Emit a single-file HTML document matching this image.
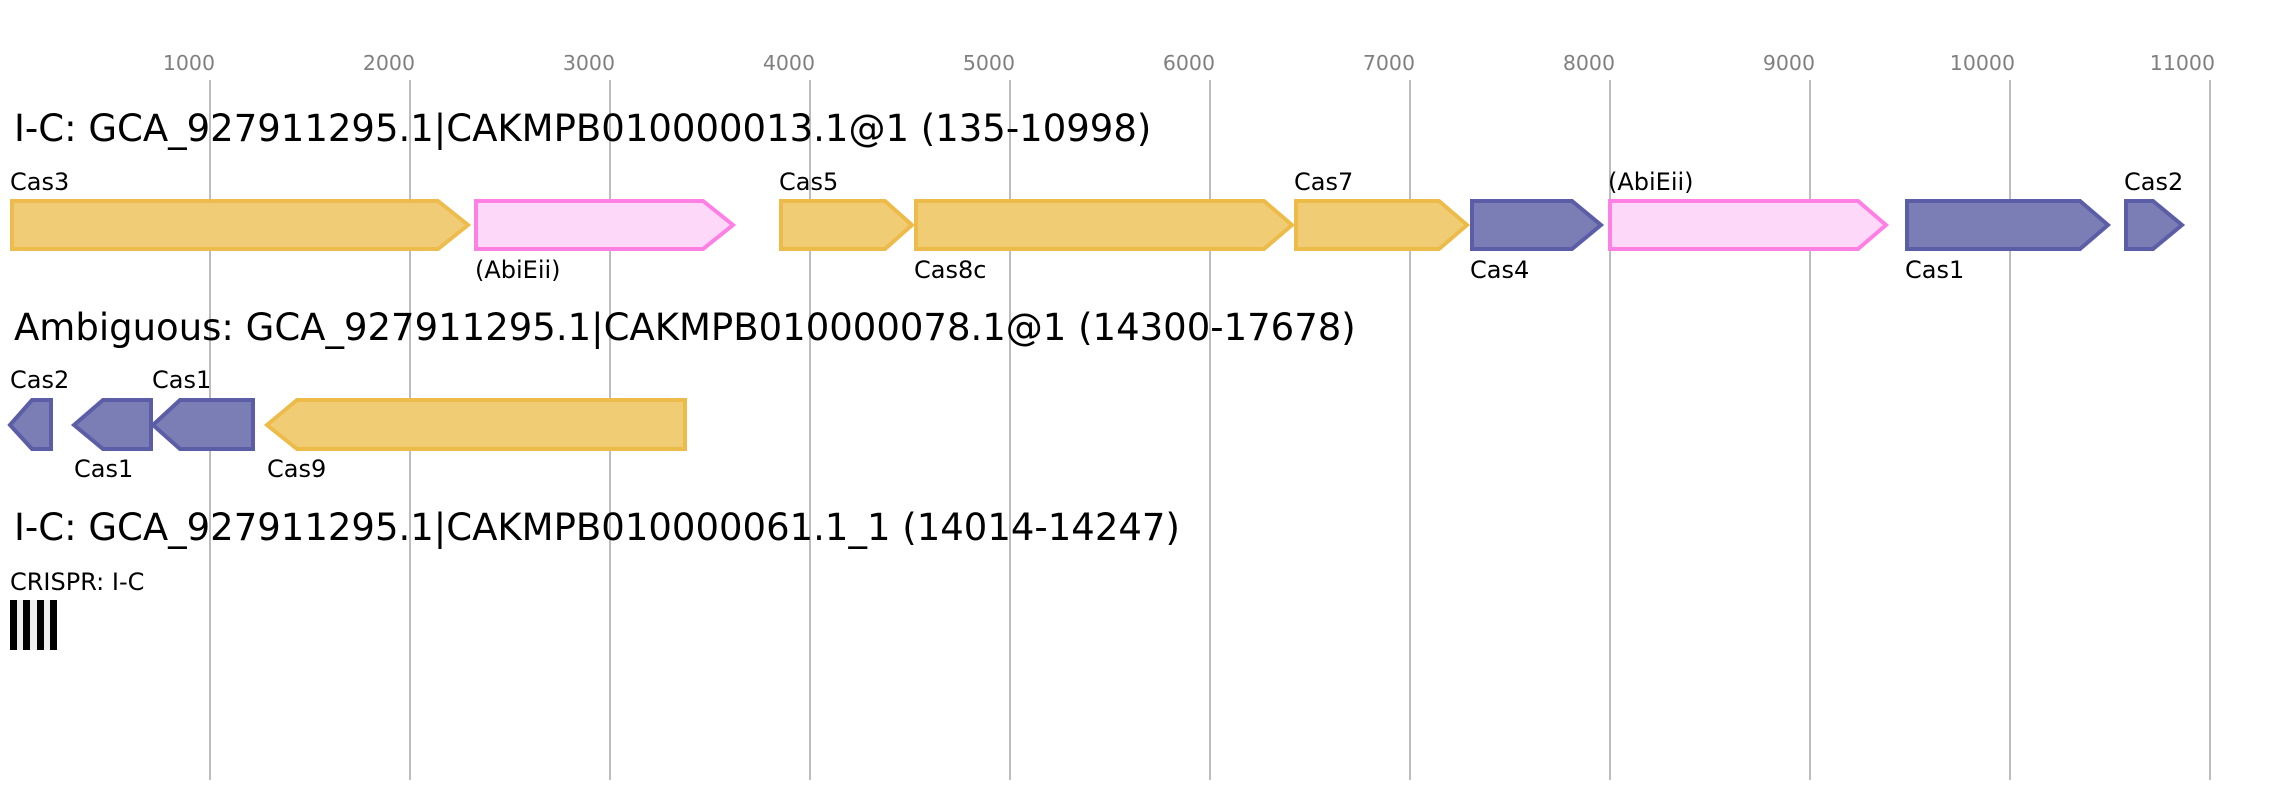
<!DOCTYPE html>
<html><head><meta charset="utf-8"><style>
html,body{margin:0;padding:0;background:#fff;}
svg{display:block;font-family:"DejaVu Sans","Liberation Sans",sans-serif;}
.t{font-size:20.5px;fill:#808080;text-anchor:end}
.h{font-size:37px;fill:#000}
.l{font-size:24px;fill:#000}
.y{fill:#f0cc74;stroke:#edbb4a;stroke-width:4}
.p{fill:#fdd8f8;stroke:#ff80e4;stroke-width:4}
.b{fill:#7b7db5;stroke:#5b5ea6;stroke-width:4}
</style></head><body>
<svg width="2273" height="800" viewBox="0 0 2273 800" xmlns="http://www.w3.org/2000/svg">
<g stroke="#bdbdbd" stroke-width="2">
<line x1="210" y1="80" x2="210" y2="780"/><line x1="410" y1="80" x2="410" y2="780"/>
<line x1="610" y1="80" x2="610" y2="780"/><line x1="810" y1="80" x2="810" y2="780"/>
<line x1="1010" y1="80" x2="1010" y2="780"/><line x1="1210" y1="80" x2="1210" y2="780"/>
<line x1="1410" y1="80" x2="1410" y2="780"/><line x1="1610" y1="80" x2="1610" y2="780"/>
<line x1="1810" y1="80" x2="1810" y2="780"/><line x1="2010" y1="80" x2="2010" y2="780"/>
<line x1="2210" y1="80" x2="2210" y2="780"/>
</g>
<text class="t" x="215" y="70">1000</text><text class="t" x="415" y="70">2000</text>
<text class="t" x="615" y="70">3000</text><text class="t" x="815" y="70">4000</text>
<text class="t" x="1015" y="70">5000</text><text class="t" x="1215" y="70">6000</text>
<text class="t" x="1415" y="70">7000</text><text class="t" x="1615" y="70">8000</text>
<text class="t" x="1815" y="70">9000</text><text class="t" x="2015" y="70">10000</text>
<text class="t" x="2215" y="70">11000</text>

<text class="h" x="14" y="141">I-C: GCA_927911295.1|CAKMPB010000013.1@1 (135-10998)</text>
<polygon class="y" points="12,201 438,201 468,225 438,249 12,249" opacity="0.98"/>
<polygon class="p" points="476,201 703,201 733,225 703,249 476,249"/>
<polygon class="y" points="781,201 885,201 912,225 885,249 781,249"/>
<polygon class="y" points="916,201 1264,201 1292,225 1264,249 916,249"/>
<polygon class="y" points="1296,201 1439,201 1467,225 1439,249 1296,249"/>
<polygon class="b" points="1472,201 1572,201 1601,225 1572,249 1472,249"/>
<polygon class="p" points="1610,201 1858,201 1886,225 1858,249 1610,249"/>
<polygon class="b" points="1907,201 2080,201 2108,225 2080,249 1907,249"/>
<polygon class="b" points="2126,201 2153,201 2182,225 2153,249 2126,249"/>
<text class="l" x="10" y="190">Cas3</text>
<text class="l" x="475" y="278">(AbiEii)</text>
<text class="l" x="779" y="190">Cas5</text>
<text class="l" x="914" y="278">Cas8c</text>
<text class="l" x="1294" y="190">Cas7</text>
<text class="l" x="1470" y="278">Cas4</text>
<text class="l" x="1608" y="190">(AbiEii)</text>
<text class="l" x="1905" y="278">Cas1</text>
<text class="l" x="2124" y="190">Cas2</text>

<text class="h" x="14" y="340">Ambiguous: GCA_927911295.1|CAKMPB010000078.1@1 (14300-17678)</text>
<polygon class="b" points="10,425 32,400 51,400 51,449 32,449"/>
<polygon class="b" points="74,425 103,400 151,400 151,449 103,449"/>
<polygon class="b" points="153,425 180,400 253,400 253,449 180,449"/>
<polygon class="y" points="267,425 297,400 685,400 685,449 297,449"/>
<text class="l" x="10" y="388">Cas2</text>
<text class="l" x="152" y="388">Cas1</text>
<text class="l" x="74" y="477">Cas1</text>
<text class="l" x="267" y="477">Cas9</text>

<text class="h" x="14" y="540">I-C: GCA_927911295.1|CAKMPB010000061.1_1 (14014-14247)</text>
<text class="l" x="10" y="590">CRISPR: I-C</text>
<rect x="10" y="600" width="47" height="50" fill="#eeeeee"/>
<rect x="10" y="600" width="7" height="50" fill="#000"/>
<rect x="23" y="600" width="7" height="50" fill="#000"/>
<rect x="37" y="600" width="7" height="50" fill="#000"/>
<rect x="50" y="600" width="7" height="50" fill="#000"/>
</svg>
</body></html>
